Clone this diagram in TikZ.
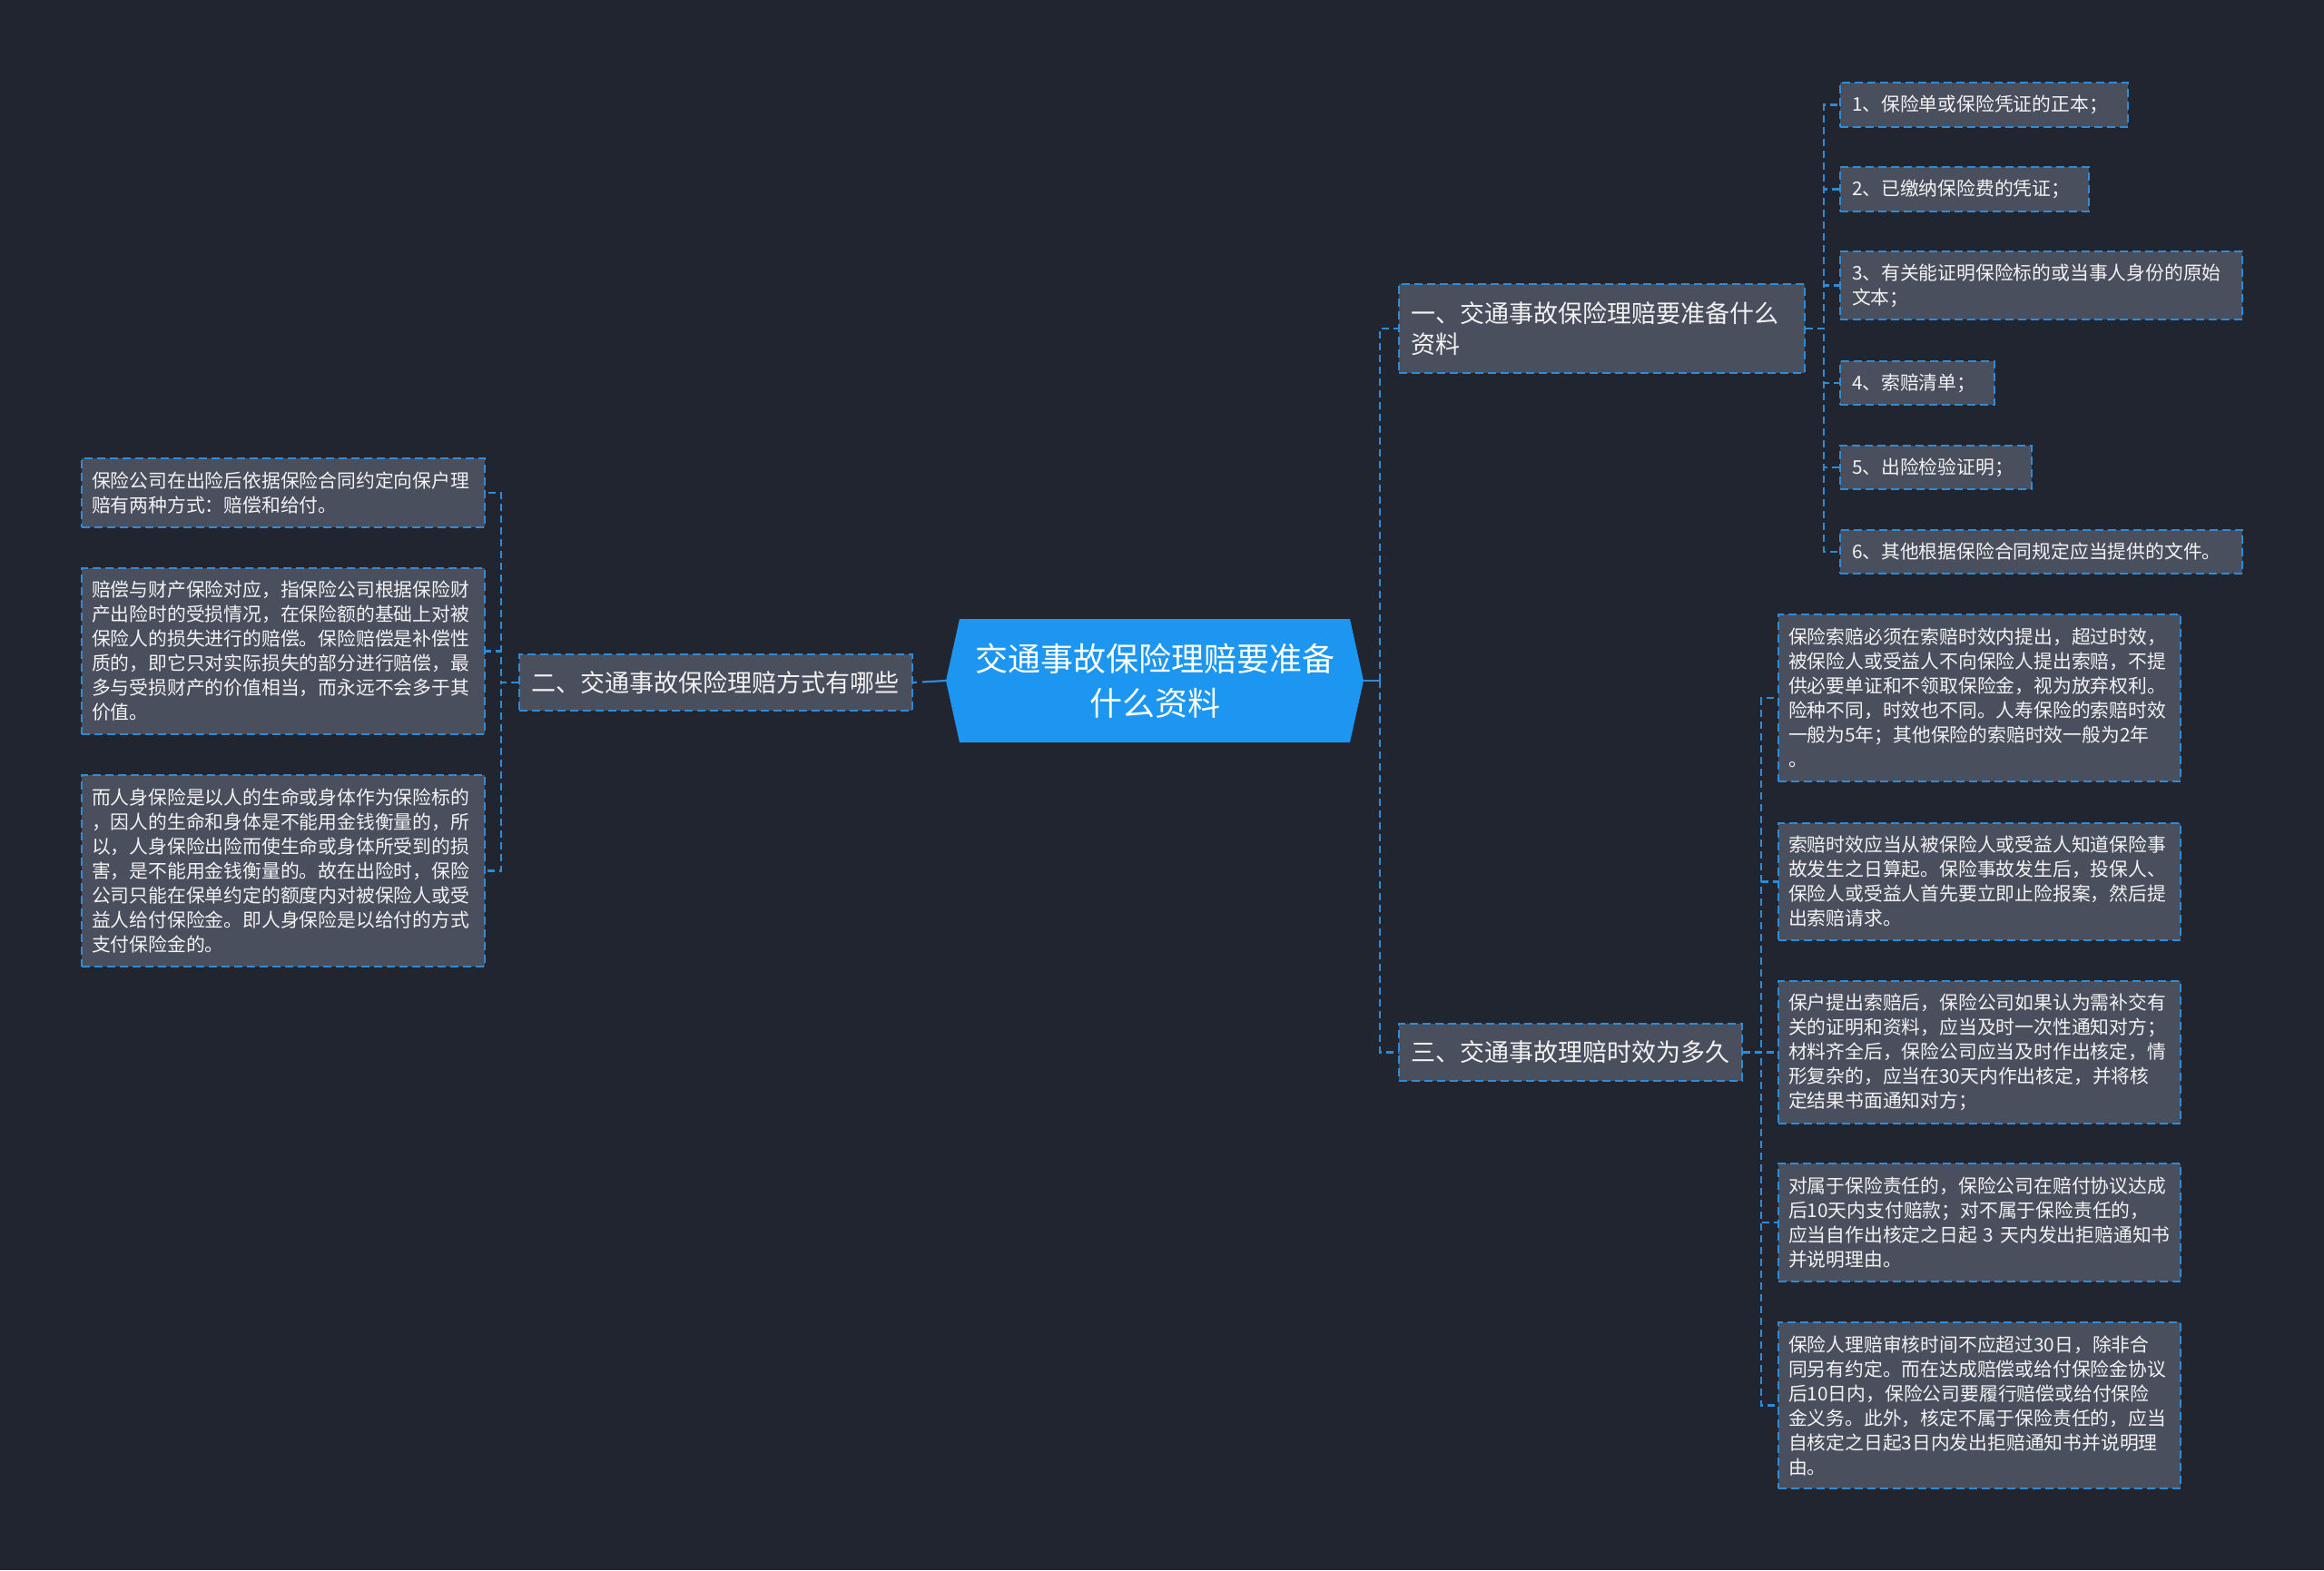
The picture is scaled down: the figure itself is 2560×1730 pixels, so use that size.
\documentclass[tikz,border=0pt]{standalone}
\usepackage{fontspec}
\setmainfont{Noto Sans CJK SC}
\definecolor{bgc}{HTML}{21252F}
\definecolor{boxc}{HTML}{4A4F5E}
\definecolor{bordc}{HTML}{2D8BD8}
\definecolor{centc}{HTML}{1C96F0}
\definecolor{txtc}{HTML}{F2F2F2}
\tikzset{
  leafbox/.style={draw=bordc, fill=boxc, line width=2pt, dash pattern=on 9pt off 5pt,
    text=txtc, anchor=north west, inner xsep=11pt, inner ysep=0pt, align=left,
    font=\fontsize{20.8}{27}\selectfont},
  mainbox/.style={leafbox, inner xsep=13pt, font=\fontsize{27}{34}\selectfont},
  conn/.style={draw=bordc, line width=2.2pt, dash pattern=on 8pt off 5pt},
}
\begin{document}
\begin{tikzpicture}[x=1pt,y=-1pt]
\useasboundingbox (0,0) rectangle (2560,1730);
\fill[bgc] (0,0) rectangle (2560,1730);

% central node
\fill[centc] (1042,750) -- (1057,682) -- (1487,682) -- (1502,750) -- (1487,818) -- (1057,818) -- cycle;
\node[minimum width=460pt, minimum height=136pt, inner sep=0pt, text=white, align=center,
  font=\fontsize{36}{49}\selectfont] (c) at (1272,750) {交通事故保险理赔要准备\\什么资料};

% main topics
\node[mainbox, text width=421pt, minimum height=98pt] (m1) at (1540,312) {一、交通事故保险理赔要准备什么\\资料};
\node[mainbox, text width=407pt, minimum height=62pt] (m2) at (571,720) {二、交通事故保险理赔方式有哪些};
\node[mainbox, text width=352pt, minimum height=63pt] (m3) at (1540,1127) {三、交通事故理赔时效为多久};

% items of topic 1
\node[leafbox, inner xsep=13pt, text width=291pt, minimum height=49pt] (i1) at (2026,90) {1、保险单或保险凭证的正本；};
\node[leafbox, inner xsep=13pt, text width=248pt, minimum height=49pt] (i2) at (2026,183) {2、已缴纳保险费的凭证；};
\node[leafbox, inner xsep=13pt, text width=417pt, minimum height=75pt] (i3) at (2026,276) {3、有关能证明保险标的或当事人身份的原始\\文本；};
\node[leafbox, inner xsep=13pt, text width=144pt, minimum height=48pt] (i4) at (2026,397) {4、索赔清单；};
\node[leafbox, inner xsep=13pt, text width=185pt, minimum height=48pt] (i5) at (2026,490) {5、出险检验证明；};
\node[leafbox, inner xsep=13pt, text width=417pt, minimum height=48pt] (i6) at (2026,583) {6、其他根据保险合同规定应当提供的文件。};

% items of topic 3
\node[leafbox, text width=421pt, minimum height=184pt] (l1) at (1958,676) {保险索赔必须在索赔时效内提出，超过时效，\\被保险人或受益人不向保险人提出索赔，不提\\供必要单证和不领取保险金，视为放弃权利。\\险种不同，时效也不同。人寿保险的索赔时效\\一般为5年；其他保险的索赔时效一般为2年\\。};
\node[leafbox, text width=421pt, minimum height=129pt] (l2) at (1958,906) {索赔时效应当从被保险人或受益人知道保险事\\故发生之日算起。保险事故发生后，投保人、\\保险人或受益人首先要立即止险报案，然后提\\出索赔请求。};
\node[leafbox, text width=421pt, minimum height=157pt] (l3) at (1958,1080) {保户提出索赔后，保险公司如果认为需补交有\\关的证明和资料，应当及时一次性通知对方；\\材料齐全后，保险公司应当及时作出核定，情\\形复杂的，应当在30天内作出核定，并将核\\定结果书面通知对方；};
\node[leafbox, text width=421pt, minimum height=130pt] (l4) at (1958,1281) {对属于保险责任的，保险公司在赔付协议达成\\后10天内支付赔款；对不属于保险责任的，\\应当自作出核定之日起 3 天内发出拒赔通知书\\并说明理由。};
\node[leafbox, text width=421pt, minimum height=183pt] (l5) at (1958,1456) {保险人理赔审核时间不应超过30日，除非合\\同另有约定。而在达成赔偿或给付保险金协议\\后10日内，保险公司要履行赔偿或给付保险\\金义务。此外，核定不属于保险责任的，应当\\自核定之日起3日内发出拒赔通知书并说明理\\由。};

% items of topic 2
\node[leafbox, text width=422pt, minimum height=76pt] (ll1) at (89,504) {保险公司在出险后依据保险合同约定向保户理\\赔有两种方式：赔偿和给付。};
\node[leafbox, text width=422pt, minimum height=183pt] (ll2) at (89,625) {赔偿与财产保险对应，指保险公司根据保险财\\产出险时的受损情况，在保险额的基础上对被\\保险人的损失进行的赔偿。保险赔偿是补偿性\\质的，即它只对实际损失的部分进行赔偿，最\\多与受损财产的价值相当，而永远不会多于其\\价值。};
\node[leafbox, text width=422pt, minimum height=211pt] (ll3) at (89,853) {而人身保险是以人的生命或身体作为保险标的\\，因人的生命和身体是不能用金钱衡量的，所\\以，人身保险出险而使生命或身体所受到的损\\害，是不能用金钱衡量的。故在出险时，保险\\公司只能在保单约定的额度内对被保险人或受\\益人给付保险金。即人身保险是以给付的方式\\支付保险金的。};

% connectors
\draw[conn, dash pattern=on 26pt off 6pt] (c.west) -- (m2.east);
\draw[conn, solid] (c.east) -- ([xshift=18pt]c.east);
\draw[conn] ([xshift=18pt]c.east) |- (m1.west);
\draw[conn] ([xshift=18pt]c.east) |- (m3.west);
\foreach \n in {i1,i2,i3,i4,i5,i6}
  \draw[conn] (m1.east) -- ([xshift=20pt]m1.east) |- (\n.west);
\foreach \n in {l1,l2,l3,l4,l5}
  \draw[conn] (m3.east) -- ([xshift=20pt]m3.east) |- (\n.west);
\foreach \n in {ll1,ll2,ll3}
  \draw[conn] (m2.west) -- ([xshift=-19pt]m2.west) |- (\n.east);
\end{tikzpicture}
\end{document}
